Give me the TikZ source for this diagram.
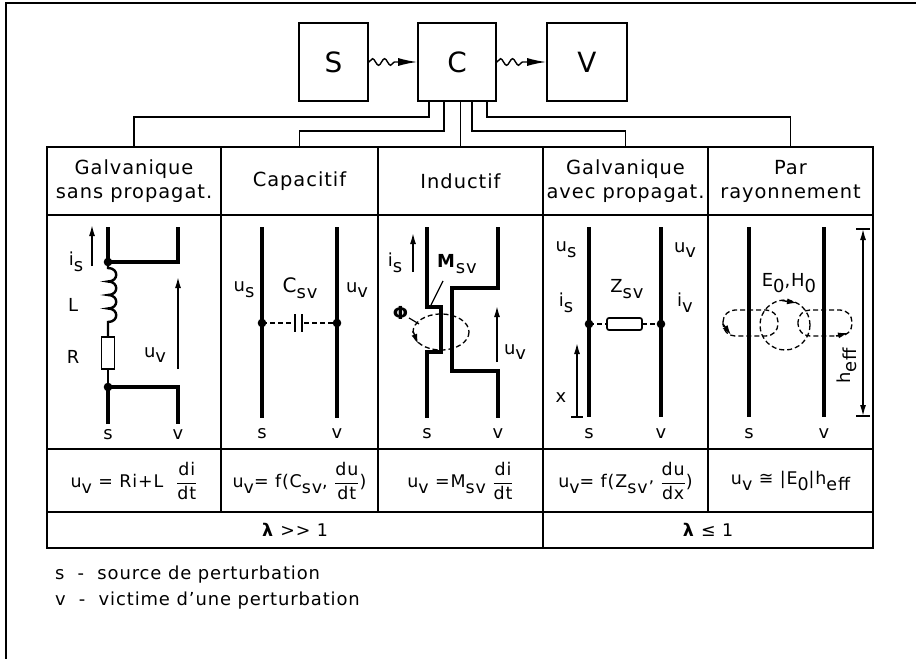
\documentclass[tikz,border=0pt]{standalone}
\usepackage{amsmath}
\usepackage{fontspec}
\setmainfont{DejaVu Sans}[LetterSpace=5]
\usetikzlibrary{arrows.meta,decorations.pathmorphing,calc}

\newcommand{\lowsub}[1]{\raisebox{-0.6ex}{#1}}
\newcommand{\fr}[2]{$\genfrac{}{}{0.9pt}{0}{\mbox{#1}}{\mbox{#2}}$}
\newcommand{\headfont}{\fontsize{19.5}{24}\selectfont}
\newcommand{\labfont}{\fontsize{18}{20}\selectfont}
\newcommand{\formfont}{\fontsize{17.5}{19}\selectfont}
\newcommand{\legfont}{\fontsize{18}{20}\selectfont}

\tikzset{
  blk/.style={draw,line width=1.6bp,minimum width=#1,minimum height=78bp,inner sep=0,font=\fontsize{28}{30}\selectfont},
  cell/.style={minimum width=#1,minimum height=68bp,inner sep=0,align=center,font=\headfont},
  lab/.style={inner sep=0,font=\labfont},
  wire/.style={line width=4.2bp},
  frame/.style={line width=1.6bp},
  wave/.style={line width=1.4bp,-{Latex[length=19bp,width=8bp]},decorate,
    decoration={snake,amplitude=3.3bp,segment length=12bp,post length=21bp}},
  arr/.style={line width=1.4bp,-{Latex[length=11bp,width=6bp]}},
  flux/.style={line width=1.3bp,dash pattern=on 5bp off 3bp}
}

\begin{document}
\begin{tikzpicture}[x=1bp,y=-1bp]
\useasboundingbox (0,0) rectangle (916,659);

% outer frame
\draw[frame] (6,659) -- (6,3) -- (916,3);

% S -> C -> V
\node[blk=69bp] (S) at (333.5,62) {S};
\node[blk=78bp] (C) at (457,62) {C};
\node[blk=80bp] (V) at (587,62) {V};
\draw[wave] (S) -- (C);
\draw[wave] (C) -- (V);

% header cells
\node[cell=174bp] (h1) at (134,181) {Galvanique\\sans propagat.};
\node[cell=157bp] (h2) at (299.5,181) {Capacitif};
\node[cell=165bp] (h3) at (460.5,181) {Inductif};
\node[cell=165bp] (h4) at (625.5,181) {Galvanique\\avec propagat.};
\node[cell=165bp] (h5) at (790.5,181) {Par\\rayonnement};

% links from C
\draw[frame] ([xshift=12bp]C.south west) |- ($(h1.north)+(0,-30)$) -- (h1.north);
\draw[frame] ([xshift=27bp]C.south west) |- ($(h2.north)+(0,-16)$) -- (h2.north);
\draw[frame] (C.south -| h3.north) -- (h3.north);
\draw[frame] ([xshift=55bp]C.south west) |- ($(h4.north)+(0,-16)$) -- (h4.north);
\draw[frame] ([xshift=70bp]C.south west) |- ($(h5.north)+(0,-30)$) -- (h5.north);

% table
\draw[frame] (47,147) rectangle (873,548);
\draw[frame] (47,215) -- (873,215);
\draw[frame] (47,449) -- (873,449);
\draw[frame] (47,512) -- (873,512);
\foreach \x in {221,378,708} \draw[frame] (\x,147) -- (\x,512);
\draw[frame] (543,147) -- (543,548);

%%% Galvanique sans propagation
\draw[wire] (108,227) -- (108,262) -- (178,262) -- (178,227);
\draw[wire] (108,424) -- (108,387) -- (178,387) -- (178,424);
\draw[line width=2.4bp] (108,262) -- (108,268)
  .. controls (119,268) and (119,281.5) .. (108,281.5)
  .. controls (119,281.5) and (119,295) .. (108,295)
  .. controls (119,295) and (119,308.5) .. (108,308.5)
  .. controls (119,308.5) and (119,322) .. (108,322) -- (108,337);
\draw[line width=1.7bp] (101.5,337) rectangle (114.5,369);
\draw[line width=2.4bp] (108,369) -- (108,387);
\fill (108,262) circle (4.3) (108,387) circle (4.3);
\draw[arr] (92,266) -- (92,225);
\draw[arr] (178,369) -- (178,277);
\node[lab] (is1) at (76,262) {i\lowsub{s}};
\node[lab] (L1) at (73,305) {L};
\node[lab] (R1) at (73,357) {R};
\node[lab] (uv1) at (155,355) {u\lowsub{v}};
\node[lab] (s1) at (108,435) {s};
\node[lab] (v1) at (178,435) {v};

%%% Capacitif
\draw[wire] (262,227) -- (262,418);
\draw[wire] (337,227) -- (337,418);
\draw[flux] (262,323) -- (293,323);
\draw[flux] (304,323) -- (337,323);
\draw[line width=2.8bp] (295,314) -- (295,332) (302,314) -- (302,332);
\fill (262,323) circle (4.3) (337,323) circle (4.3);
\node[lab] (us2) at (244,290) {u\lowsub{s}};
\node[lab] (csv) at (300,288) {\fontsize{20}{22}\selectfont C\lowsub{\labfont sv}};
\node[lab] (uv2) at (357,290) {u\lowsub{v}};
\node[lab] (s2) at (262,434) {s};
\node[lab] (v2) at (337,434) {v};

%%% Inductif
\draw[wire] (427,227) -- (427,307) -- (441,307) -- (441,352) -- (427,352) -- (427,418);
\draw[wire] (498,227) -- (498,288) -- (452,288) -- (452,371) -- (498,371) -- (498,418);
\draw[flux] (441,332) ellipse [x radius=28, y radius=18];
\draw[line width=1.4bp,-{Latex[length=10bp,width=6bp]}] (413,331) -- (418,344);
\draw[line width=1.2bp] (409,318) -- (419,324);
\draw[line width=1.2bp] (443,281) -- (431,305);
\draw[arr] (413,272) -- (413,233);
\draw[arr] (497,362) -- (497,306);
\node[lab] (is3) at (395,263) {i\lowsub{s}};
\node[lab] (msv) at (457,264) {\textbf{M}\lowsub{sv}};
\node[lab] (phi) at (401,313) {\textbf{Φ}};
\node[lab] (uv3) at (515,352) {u\lowsub{v}};
\node[lab] (s3) at (427,434) {s};
\node[lab] (v3) at (498,434) {v};

%%% Galvanique avec propagation
\draw[wire] (589,227) -- (589,417);
\draw[wire] (661,227) -- (661,417);
\draw[flux] (589,324) -- (607,324);
\draw[flux] (642,324) -- (661,324);
\draw[line width=1.7bp,rounded corners=2bp] (607,318) rectangle (642,330);
\fill (589,324) circle (4.3) (661,324) circle (4.3);
\draw[arr] (577,417) -- (577,343);
\draw[line width=1.4bp] (571,417) -- (583,417);
\node[lab] (us4) at (566,250) {u\lowsub{s}};
\node[lab] (is4) at (566,303) {i\lowsub{s}};
\node[lab] (zsv) at (627,289) {Z\lowsub{sv}};
\node[lab] (uv4) at (685,250) {u\lowsub{v}};
\node[lab] (iv4) at (685,303) {i\lowsub{v}};
\node[lab] (x4) at (561,398) {x};
\node[lab] (s4) at (589,434) {s};
\node[lab] (v4) at (661,434) {v};

%%% Par rayonnement
\draw[wire] (749,227) -- (749,417);
\draw[wire] (824,227) -- (824,417);
\draw[flux] (785,325) circle (25);
\draw[flux,rounded corners=12bp] (723,310) rectangle (778,336);
\draw[flux,rounded corners=12bp] (798,310) rectangle (852,336);
\draw[line width=1.4bp,-{Latex[length=10bp,width=6bp]}] (782,300.5) -- (797,303);
\draw[line width=1.4bp,-{Latex[length=10bp,width=6bp]}] (723,324) -- (731,335);
\draw[line width=1.4bp,-{Latex[length=10bp,width=6bp]}] (836,336) -- (848,333);
\draw[line width=1.4bp,{Latex[length=11bp,width=6bp]}-{Latex[length=11bp,width=6bp]}] (863,229) -- (863,416);
\draw[line width=1.4bp] (856,229) -- (870,229) (856,416) -- (870,416);
\node[lab] (eh) at (789,283) {E\lowsub{0},H\lowsub{0}};
\node[lab,rotate=90] (heff) at (847,366) {h\lowsub{eff}};
\node[lab] (s5) at (749,434) {s};
\node[lab] (v5) at (824,434) {v};

% formulas
\node[inner sep=0,font=\formfont] (f1) at (134,481) {u\lowsub{v} = Ri+L \ \fr{di}{dt}};
\node[inner sep=0,font=\formfont] (f2) at (299.5,481) {u\lowsub{v}= f(C\lowsub{sv}, \fr{du}{dt})};
\node[inner sep=0,font=\formfont] (f3) at (460.5,481) {u\lowsub{v} =M\lowsub{sv} \fr{di}{dt}};
\node[inner sep=0,font=\formfont] (f4) at (625.5,481) {u\lowsub{v}= f(Z\lowsub{sv’} \fr{du}{dx})};
\node[inner sep=0,font=\formfont] (f5) at (790.5,481) {u\lowsub{v} ≅ |E\lowsub{0}|h\lowsub{eff}};

% wavelength
\node[inner sep=0,font=\formfont] (lam1) at (295,530) {\textbf{λ} {>}{>} 1};
\node[inner sep=0,font=\formfont] (lam2) at (708,530) {\textbf{λ} ≤ 1};

% legend
\node[anchor=west,inner sep=0,font=\legfont] (leg1) at (55,575) {s \ - \ source de perturbation};
\node[anchor=west,inner sep=0,font=\legfont] (leg2) at (55,601) {v \ - \ victime d’une perturbation};

\end{tikzpicture}
\end{document}
